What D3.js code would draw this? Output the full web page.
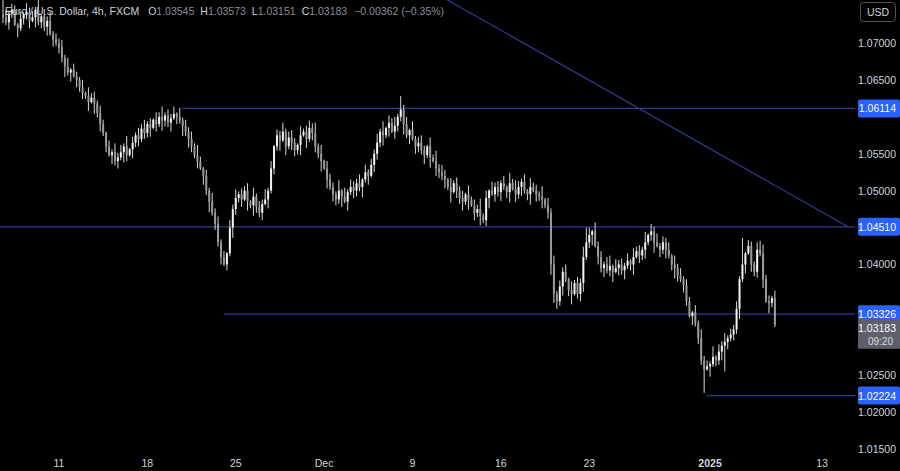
<!DOCTYPE html>
<html><head><meta charset="utf-8">
<script src="https://cdn.jsdelivr.net/npm/d3@7"></script>
<style>body{margin:0;background:#000;overflow:hidden}svg{display:block;font-family:"Liberation Sans",Arial,sans-serif}</style>
</head><body><svg id="c" width="900" height="471"></svg>
<script>
// closes in pips above 1.0000 (4h candles)
const closes = [735,728,740,745,725,720,733,738,742,730, 735,745,728,736,722,730,712,705,700,694,
680,668,660,664,655,650,640,632,628,620, 626,618,605,590,578,560,548,552,540,545,
552,560,548,556,565,575,570,584,578,590, 585,596,590,600,595,602,592,598,604,600,
595,588,580,570,560,548,540,530,520,500, 485,470,455,430,410,400,415,450,475,490,
495,488,500,485,480,492,478,470,482,488, 500,530,560,575,568,580,560,572,565,555,
562,575,580,570,585,578,560,550,540,530, 515,505,495,488,500,492,485,498,505,500,
510,505,515,525,520,535,550,565,580,575, 585,592,580,588,600,610,590,575,582,570,
560,565,555,548,560,545,540,530,525,520, 515,505,498,510,500,490,485,495,488,480,
470,475,465,460,490,500,495,505,498,510, 505,498,510,502,495,505,512,500,495,505,
500,495,492,488,480,470,400,360,350,370, 390,380,365,360,375,360,375,410,430,440,
445,425,410,395,400,392,398,390,395,400, 392,398,405,400,410,418,412,420,430,440,
445,430,425,420,430,420,412,400,395,385, 380,372,350,330,335,320,300,270,258,262,
265,275,270,282,290,295,300,305,312,340, 380,400,415,425,400,390,420,415,380,350,
348,354.5,318.3];
// upper / lower wick lengths, units of 2 pips
const wickUp = "3524315263427153624352614325163425314263527142536241537243516243527314263524153624351624372514362453162453726154327162543615243627153624351624531627354162435162437251634251736425163427153624351624372516342571634251634271536243516";
const wickDn = "4253162435172436152437261534261735241635274163524361527436152736425163724351627435162743516243716254371625437162543716254372615437261543726154362715436271546271536247153624715362471536247153624713562471536247153624715362471536247";
const spikes = [[0,760,null],[76,null,392],[135,628,null],[187,null,348],[198,450,null],[238,null,226],[245,null,255],[251,436,null],[257,432,null],[261,357.3,null],[262,null,315.1]];
const levels = [{p:1.06114,x0:182},{p:1.04510,x0:0},{p:1.03326,x0:224},{p:1.02224,x0:707}];
const priceTicks = [1.07,1.065,1.06,1.055,1.05,1.045,1.04,1.035,1.03,1.025,1.02,1.015];
const dateTicks = [[19,"11"],[49,"18"],[79,"25"],[109,"Dec"],[139,"9"],[169,"16"],[199,"23"],[240,"2025"],[278,"13"]];
const trend = [[1.0833,350],[1.0451,848]]; // [price, x]

const data = closes.map((c,i)=>{
  const o = i ? closes[i-1] : 738;
  let h = Math.max(o,c) + 2*(+wickUp[i % wickUp.length]);
  let l = Math.min(o,c) - 2*(+wickDn[i % wickDn.length]);
  const s = spikes.find(d=>d[0]===i);
  if (s) { if (s[1]!=null) h = s[1]; if (s[2]!=null) l = s[2]; }
  return {i, o:1+o/1e4, c:1+c/1e4, h:1+h/1e4, l:1+l/1e4};
});

const svg = d3.select("#c");
const W = 855;
const y = d3.scaleLinear().domain([1.07,1.015]).range([43,449]);
const x = d3.scaleLinear().domain([0,278]).range([3,822]);

svg.append("rect").attr("width",900).attr("height",471).attr("fill","#000");
const lc = "#2f3a8f";
svg.append("line").attr("x1",trend[0][1]).attr("y1",y(trend[0][0])).attr("x2",trend[1][1]).attr("y2",y(trend[1][0])).attr("stroke",lc).attr("stroke-width",1.2);
svg.selectAll(".lv").data(levels).enter().append("line")
  .attr("x1",d=>d.x0).attr("x2",W).attr("y1",d=>y(d.p)).attr("y2",d=>y(d.p)).attr("stroke",lc).attr("stroke-width",1.2);

const g = svg.append("g");
g.selectAll(".w").data(data).enter().append("line")
  .attr("x1",d=>x(d.i)).attr("x2",d=>x(d.i)).attr("y1",d=>y(d.h)).attr("y2",d=>y(d.l))
  .attr("stroke","#d8d8d8").attr("stroke-width",1);
g.selectAll(".b").data(data).enter().append("rect")
  .attr("x",d=>x(d.i)-1).attr("width",2)
  .attr("y",d=>y(Math.max(d.o,d.c))).attr("height",d=>Math.max(1,Math.abs(y(d.o)-y(d.c))))
  .attr("fill",d=>d.c>=d.o?"#f2f2f2":"#9a9a9a");

const last = data[data.length-1];
// price axis (skip ticks hidden under the label boxes)
const busy = levels.map(l=>y(l.p)).concat([y(last.c)+7]);
svg.selectAll(".pt").data(priceTicks.filter(p=>busy.every(b=>Math.abs(y(p)-b)>13))).enter().append("text")
  .attr("x",896).attr("y",d=>y(d)+4).attr("text-anchor","end").attr("fill","#d1d4dc").attr("font-size",10.5)
  .text(d=>d.toFixed(5));
levels.forEach(l=>{
  svg.append("rect").attr("x",858).attr("y",y(l.p)-9).attr("width",42).attr("height",18).attr("rx",2).attr("fill","#2962ff");
  svg.append("text").attr("x",896).attr("y",y(l.p)+4).attr("text-anchor","end").attr("fill","#fff").attr("font-size",10.5).text(l.p.toFixed(5));
});
svg.append("rect").attr("x",858).attr("y",y(last.c)-6).attr("width",42).attr("height",30).attr("fill","#5d606b");
svg.append("text").attr("x",896).attr("y",y(last.c)+7).attr("text-anchor","end").attr("fill","#fff").attr("font-size",10.5).text(last.c.toFixed(5));
svg.append("text").attr("x",893).attr("y",y(last.c)+20).attr("text-anchor","end").attr("fill","#ddd").attr("font-size",10).text("09:20");

// time axis
svg.selectAll(".dt").data(dateTicks).enter().append("text")
  .attr("x",d=>x(d[0])).attr("y",467).attr("text-anchor","middle").attr("fill","#d1d4dc")
  .attr("font-size",10.5).attr("font-weight",d=>d[1]==="2025"?"bold":"normal").text(d=>d[1]);

// header
const hd = svg.append("text").attr("x",5).attr("y",15).attr("font-size",10.5).attr("fill","#d1d4dc").attr("xml:space","preserve");
hd.append("tspan").text("Euro / U.S. Dollar, 4h, FXCM ");
[["O","1.03545"],["H","1.03573"],["L","1.03151"],["C","1.03183"]].forEach(p=>{
  hd.append("tspan").attr("dx",6).text(p[0]); hd.append("tspan").attr("fill","#8a8d96").text(p[1]);
});
hd.append("tspan").attr("dx",7).attr("fill","#8a8d96").text("−0.00362 (−0.35%)");
svg.append("rect").attr("x",860.5).attr("y",2.5).attr("width",35).attr("height",19).attr("rx",3).attr("fill","none").attr("stroke","#555");
svg.append("text").attr("x",878).attr("y",16).attr("text-anchor","middle").attr("fill","#d1d4dc").attr("font-size",10.5).text("USD");
</script></body></html>
